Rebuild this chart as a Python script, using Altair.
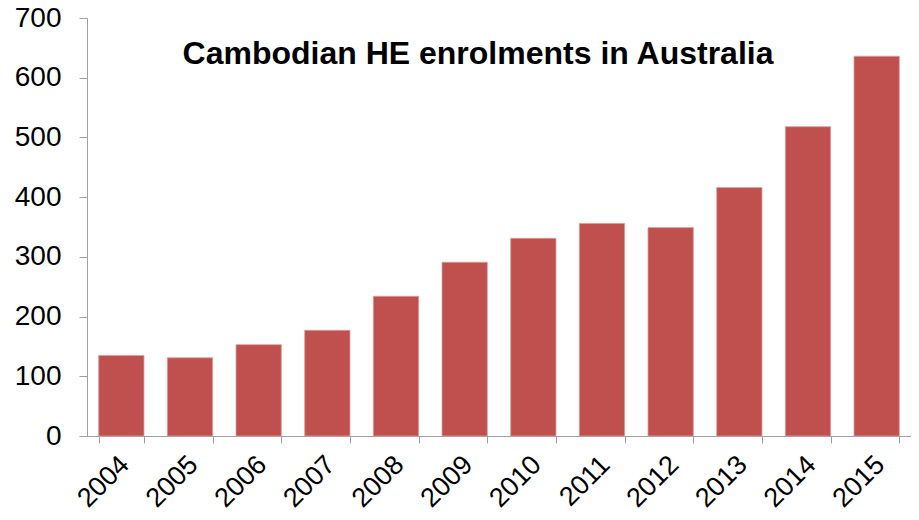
import altair as alt
import pandas as pd

years = ["2004", "2005", "2006", "2007", "2008", "2009", "2010", "2011", "2012", "2013", "2014", "2015"]
enrolments = [135, 131, 153, 177, 234, 291, 331, 356, 349, 416, 518, 636]
y_ticks = [0, 100, 200, 300, 400, 500, 600, 700]
title_text = "Cambodian HE enrolments in Australia"

df = pd.DataFrame({"year": years, "enrolments": enrolments})

FONT = "Liberation Sans"

chart = (
    alt.Chart(df)
    .mark_bar(color="#c0504d", stroke="#d9a09e", strokeWidth=0.8)
    .encode(
        x=alt.X(
            "year:O",
            sort=years,
            title=None,
            scale=alt.Scale(paddingInner=0.34, paddingOuter=0.17),
            axis=alt.Axis(
                labelAngle=-45,
                labelAlign="right",
                labelBaseline="top",
                tickBand="extent",
                tickSize=7,
                labelPadding=8,
                labelOffset=-6,
                labelFontSize=27,
                labelFont=FONT,
                labelColor="#000000",
                domainColor="#a0a0a0",
                tickColor="#a0a0a0",
                grid=False,
            ),
        ),
        y=alt.Y(
            "enrolments:Q",
            title=None,
            scale=alt.Scale(domain=[0, 700], nice=False),
            axis=alt.Axis(
                values=y_ticks,
                tickSize=8,
                labelPadding=18,
                labelFontSize=28,
                labelFont=FONT,
                labelColor="#000000",
                domainColor="#a0a0a0",
                tickColor="#a0a0a0",
                gridColor="#ffffff",
                gridWidth=1.5,
            ),
        ),
    )
    .properties(
        width=824,
        height=418,
        autosize=alt.AutoSizeParams(type="none"),
        padding={"left": 79, "top": 10, "right": 0, "bottom": 76},
        title=alt.TitleParams(
            text=title_text,
            font=FONT,
            fontSize=32,
            fontWeight="bold",
            color="#000000",
            anchor="middle",
            baseline="alphabetic",
            offset=0,
            dy=92,
            dx=-21,
        ),
    )
    .configure_view(fill="#f2f2f2", stroke=None)
    .configure(background="#ffffff")
)

chart.save("out.html", embed_options={"renderer": "svg", "actions": False})
